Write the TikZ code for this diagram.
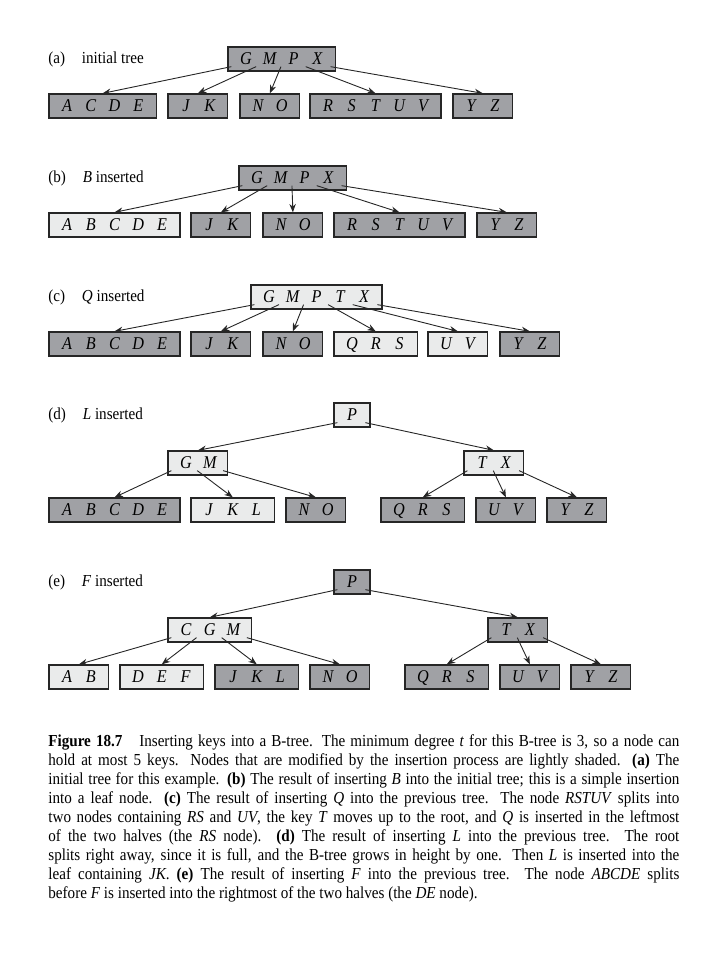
\documentclass[tikz,border=0pt]{standalone}
\usepackage{fontspec}
\setmainfont[FakeStretch=0.9]{Liberation Serif}
\usetikzlibrary{arrows.meta}
\definecolor{darkfill}{HTML}{A0A1A5}
\definecolor{lightfill}{HTML}{EAEBEB}
\definecolor{edgecol}{HTML}{262626}
\newcommand\kk[1]{\makebox[11.875pt]{#1}}
\newcommand\capline[1]{\makebox[315.5pt][s]{#1}}
\newcommand\ptr[4]{%
  \pgfmathsetmacro\sx{2+(14+11.875*(#3-1))*#2/#3}%
  \draw[ptrline] ([xshift=\sx pt,yshift=2.5pt]#1.south west) -- (#4.north);}
\tikzset{
  bnode/.style={draw=edgecol, line width=0.65pt, minimum height=12pt,
    inner xsep=3.06pt, inner ysep=0pt,
    font=\fontsize{9}{10}\selectfont\itshape, text height=5.9pt, text depth=0pt},
  darkbox/.style={bnode, fill=darkfill},
  lightbox/.style={bnode, fill=lightfill},
  ptrline/.style={draw=black!85, line width=0.45pt, -{Stealth[length=4.2pt,width=3.2pt]}},
  lbl/.style={anchor=base west, inner sep=0pt, font=\fontsize{8.4}{9}\selectfont},
  captext/.style={anchor=base west, inner sep=0pt, font=\fontsize{8.4}{9.5}\selectfont}
}
\begin{document}
\begin{tikzpicture}[x=0.5pt,y=-0.5pt]
\useasboundingbox (0,0) rectangle (710,954);

% ---------- (a)
\node[lbl] (la) at (48,63) {(a)\quad initial tree};
\node[darkbox] (ar) at (281.6,59) {\kk{G}\kk{M}\kk{P}\kk{X}};
\node[darkbox] (a1) at (102.6,106) {\kk{A}\kk{C}\kk{D}\kk{E}};
\node[darkbox] (a2) at (197.9,106) {\kk{J}\kk{K}};
\node[darkbox] (a3) at (269.9,106) {\kk{N}\kk{O}};
\node[darkbox] (a4) at (375.5,106) {\kk{R}\kk{S}\kk{T}\kk{U}\kk{V}};
\node[darkbox] (a5) at (482.9,106) {\kk{Y}\kk{Z}};
\ptr{ar}{0}{4}{a1}\ptr{ar}{1}{4}{a2}\ptr{ar}{2}{4}{a3}\ptr{ar}{3}{4}{a4}\ptr{ar}{4}{4}{a5}

% ---------- (b)
\node[lbl] (lb) at (48,182) {(b)\quad \textit{B} inserted};
\node[darkbox] (br) at (292.6,178) {\kk{G}\kk{M}\kk{P}\kk{X}};
\node[lightbox] (b1) at (114.5,225) {\kk{A}\kk{B}\kk{C}\kk{D}\kk{E}};
\node[darkbox] (b2) at (220.9,225) {\kk{J}\kk{K}};
\node[darkbox] (b3) at (292.9,225) {\kk{N}\kk{O}};
\node[darkbox] (b4) at (399.5,225) {\kk{R}\kk{S}\kk{T}\kk{U}\kk{V}};
\node[darkbox] (b5) at (506.9,225) {\kk{Y}\kk{Z}};
\ptr{br}{0}{4}{b1}\ptr{br}{1}{4}{b2}\ptr{br}{2}{4}{b3}\ptr{br}{3}{4}{b4}\ptr{br}{4}{4}{b5}

% ---------- (c)
\node[lbl] (lc) at (48,301) {(c)\quad \textit{Q} inserted};
\node[lightbox] (cr) at (316.5,297) {\kk{G}\kk{M}\kk{P}\kk{T}\kk{X}};
\node[darkbox] (c1) at (114.5,344) {\kk{A}\kk{B}\kk{C}\kk{D}\kk{E}};
\node[darkbox] (c2) at (220.9,344) {\kk{J}\kk{K}};
\node[darkbox] (c3) at (292.9,344) {\kk{N}\kk{O}};
\node[lightbox] (c4) at (375.75,344) {\kk{Q}\kk{R}\kk{S}};
\node[lightbox] (c5) at (457.9,344) {\kk{U}\kk{V}};
\node[darkbox] (c6) at (529.9,344) {\kk{Y}\kk{Z}};
\ptr{cr}{0}{5}{c1}\ptr{cr}{1}{5}{c2}\ptr{cr}{2}{5}{c3}\ptr{cr}{3}{5}{c4}\ptr{cr}{4}{5}{c5}\ptr{cr}{5}{5}{c6}

% ---------- (d)
\node[lbl] (ld) at (48,419) {(d)\quad \textit{L} inserted};
\node[lightbox] (dr) at (352,415) {\kk{P}};
\node[lightbox] (dl) at (197.9,463) {\kk{G}\kk{M}};
\node[lightbox] (dm) at (493.9,463) {\kk{T}\kk{X}};
\node[darkbox] (d1) at (114.5,510) {\kk{A}\kk{B}\kk{C}\kk{D}\kk{E}};
\node[lightbox] (d2) at (232.75,510) {\kk{J}\kk{K}\kk{L}};
\node[darkbox] (d3) at (315.9,510) {\kk{N}\kk{O}};
\node[darkbox] (d4) at (422.75,510) {\kk{Q}\kk{R}\kk{S}};
\node[darkbox] (d5) at (505.9,510) {\kk{U}\kk{V}};
\node[darkbox] (d6) at (576.9,510) {\kk{Y}\kk{Z}};
\ptr{dr}{0}{1}{dl}\ptr{dr}{1}{1}{dm}
\ptr{dl}{0}{2}{d1}\ptr{dl}{1}{2}{d2}\ptr{dl}{2}{2}{d3}
\ptr{dm}{0}{2}{d4}\ptr{dm}{1}{2}{d5}\ptr{dm}{2}{2}{d6}

% ---------- (e)
\node[lbl] (le) at (48,586) {(e)\quad \textit{F} inserted};
\node[darkbox] (er) at (352,582) {\kk{P}};
\node[lightbox] (el) at (209.75,630) {\kk{C}\kk{G}\kk{M}};
\node[darkbox] (em) at (517.9,630) {\kk{T}\kk{X}};
\node[lightbox] (e1) at (78.9,677) {\kk{A}\kk{B}};
\node[lightbox] (e2) at (161.75,677) {\kk{D}\kk{E}\kk{F}};
\node[darkbox] (e3) at (256.75,677) {\kk{J}\kk{K}\kk{L}};
\node[darkbox] (e4) at (339.9,677) {\kk{N}\kk{O}};
\node[darkbox] (e5) at (446.75,677) {\kk{Q}\kk{R}\kk{S}};
\node[darkbox] (e6) at (529.9,677) {\kk{U}\kk{V}};
\node[darkbox] (e7) at (600.9,677) {\kk{Y}\kk{Z}};
\ptr{er}{0}{1}{el}\ptr{er}{1}{1}{em}
\ptr{el}{0}{3}{e1}\ptr{el}{1}{3}{e2}\ptr{el}{2}{3}{e3}\ptr{el}{3}{3}{e4}
\ptr{em}{0}{2}{e5}\ptr{em}{1}{2}{e6}\ptr{em}{2}{2}{e7}

% ---------- caption
\node[captext] (k1) at (48,746) {\capline{\textbf{Figure 18.7}\quad Inserting keys into a B-tree. The minimum degree \textit{t} for this B-tree is 3, so a node can}};
\node[captext] (k2) at (48,765.1) {\capline{hold at most 5 keys. Nodes that are modified by the insertion process are lightly shaded. \textbf{(a)} The}};
\node[captext] (k3) at (48,784.2) {\capline{initial tree for this example. \textbf{(b)} The result of inserting \textit{B} into the initial tree; this is a simple insertion}};
\node[captext] (k4) at (48,803.3) {\capline{into a leaf node. \textbf{(c)} The result of inserting \textit{Q} into the previous tree. The node \textit{RSTUV} splits into}};
\node[captext] (k5) at (48,822.4) {\capline{two nodes containing \textit{RS} and \textit{UV}, the key \textit{T} moves up to the root, and \textit{Q} is inserted in the leftmost}};
\node[captext] (k6) at (48,841.5) {\capline{of the two halves (the \textit{RS} node). \textbf{(d)} The result of inserting \textit{L} into the previous tree. The root}};
\node[captext] (k7) at (48,860.6) {\capline{splits right away, since it is full, and the B-tree grows in height by one. Then \textit{L} is inserted into the}};
\node[captext] (k8) at (48,879.7) {\capline{leaf containing \textit{JK}. \textbf{(e)} The result of inserting \textit{F} into the previous tree. The node \textit{ABCDE} splits}};
\node[captext] (k9) at (48,898.8) {before \textit{F} is inserted into the rightmost of the two halves (the \textit{DE} node).};
\end{tikzpicture}
\end{document}
